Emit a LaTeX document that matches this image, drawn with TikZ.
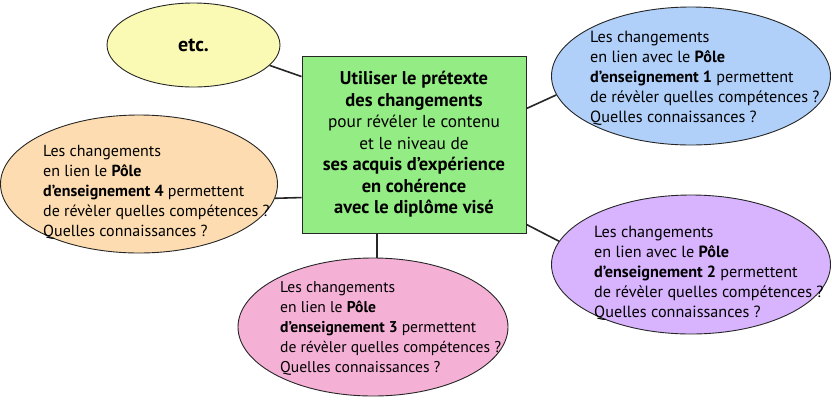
\documentclass[tikz,border=0pt]{standalone}
\usepackage{fontspec}
\setmainfont{PT Sans}
\usetikzlibrary{shapes.geometric,calc,backgrounds}
\definecolor{cyellow}{HTML}{FAFAB4}
\definecolor{cgreen}{HTML}{94EC84}
\definecolor{corange}{HTML}{FCDCB0}
\definecolor{cblue}{HTML}{B0D0FA}
\definecolor{cpurple}{HTML}{D8B4FE}
\definecolor{cpink}{HTML}{F5B0D6}
\tikzset{
  bubble/.style={ellipse, draw=black!85, line width=0.9pt, inner sep=0pt},
  txt/.style={anchor=north west, align=left, inner sep=0pt, font=\fontsize{16.2}{20}\selectfont},
  conn/.style={line width=1.6pt, black!85},
}
\newcommand{\bigb}[1]{\textbf{\fontsize{18.5}{21.5}\selectfont #1}}
\begin{document}
\begin{tikzpicture}[x=1pt,y=-1pt]
\useasboundingbox (0,0) rectangle (832,400);
% central box
\node[draw=black!85, line width=0.9pt, fill=cgreen, minimum width=224pt, minimum height=177pt, inner sep=0pt, align=center,
  font=\fontsize{17.3}{21.5}\selectfont] (main) at (414,144.5)
  {\bigb{Utiliser le prétexte}\\
   \bigb{des changements}\\
   pour révéler le contenu\\
   et le niveau de\\
   \bigb{ses acquis d’expérience}\\
   \bigb{en cohérence}\\
   \bigb{avec le diplôme visé}};
% bubbles
\node[bubble, fill=cyellow, minimum width=173pt, minimum height=84pt, font=\bfseries\fontsize{20}{24}\selectfont] (etc) at (193.5,45) {etc.};
\node[bubble, fill=cblue, minimum width=279pt, minimum height=138pt] (p1) at (691,76) {};
\node[bubble, fill=cpurple, minimum width=279pt, minimum height=139pt] (p2) at (691,264.5) {};
\node[bubble, fill=cpink, minimum width=270pt, minimum height=138pt] (p3) at (373,327) {};
\node[bubble, fill=corange, minimum width=277pt, minimum height=138pt] (p4) at (139,184) {};
% texts
\node[txt] (t1) at (590,30.5) {Les changements\\en lien avec le \textbf{Pôle}\\\textbf{d’enseignement 1} permettent\\de révèler quelles compétences ?\\Quelles connaissances ?};
\node[txt] (t2) at (594,225.5) {Les changements\\en lien avec le \textbf{Pôle}\\\textbf{d’enseignement 2} permettent\\de révèler quelles compétences ?\\Quelles connaissances ?};
\node[txt, font=\fontsize{15.6}{20}\selectfont] (t3) at (280,281.5) {Les changements\\en lien le \textbf{Pôle}\\\textbf{d’enseignement 3} permettent\\de révèler quelles compétences ?\\Quelles connaissances ?};
\node[txt, font=\fontsize{16}{20}\selectfont] (t4) at (43,145.5) {Les changements\\en lien le \textbf{Pôle}\\\textbf{d’enseignement 4} permettent\\de révèler quelles compétences ?\\Quelles connaissances ?};
% connectors
\coordinate (m3) at ($(main.south)+(-37,0)$);
\begin{scope}[on background layer]
\draw[conn] (etc.-15) -- ($(main.north west)+(0,21)$);
\draw[conn] ($(main.north east)+(0,53)$) -- (p1.-172);
\draw[conn] ($(main.south east)+(0,-9)$) -- (p2.170.5);
\draw[conn] (m3) -- ($(m3 |- p3.north)+(0,2)$);
\draw[conn] (p4.-6.3) -- ($(main.north west)+(0,142)$);
\end{scope}
\end{tikzpicture}
\end{document}
